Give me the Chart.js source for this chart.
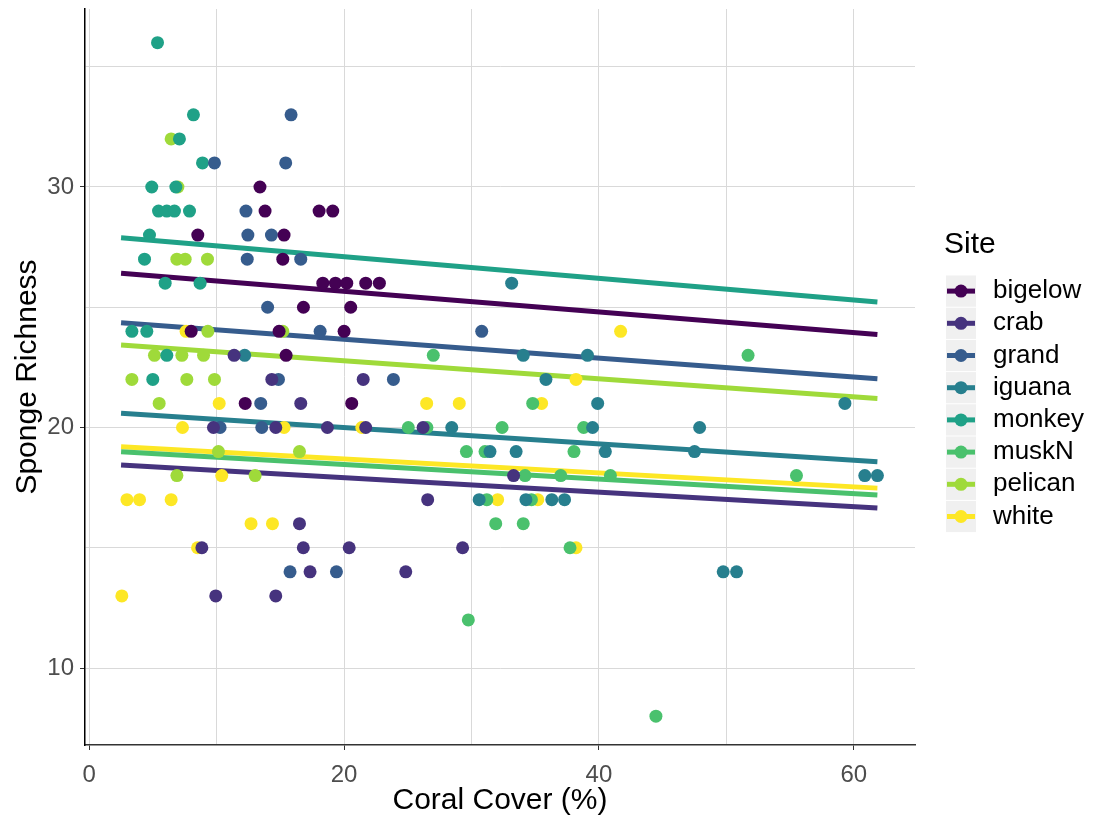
<!DOCTYPE html>
<html><head><meta charset="utf-8">
<script src="https://cdn.jsdelivr.net/npm/chart.js@4.4.0/dist/chart.umd.min.js"></script>
<style>html,body{margin:0;padding:0;background:#fff;}canvas{display:block;}</style>
</head><body>
<canvas id="c" width="1093" height="822"></canvas>
<script>
// ---- data ----
const sites = ['bigelow','crab','grand','iguana','monkey','muskN','pelican','white'];
const bigelow = [[13.4,30],[13.8,29],[18.04,29],[19.11,29],[8.52,28],[15.29,28],[15.19,27],[18.33,26],[19.32,26],[20.21,26],[21.7,26],[22.77,26],[16.81,25],[20.52,25],[20.0,24],[14.9,24],[8.0,24],[15.45,23],[12.24,21],[20.6,21]];
const crab = [[11.37,23],[14.33,22],[21.5,22],[9.75,20],[14.64,20],[16.6,21],[18.69,20],[21.7,20],[26.2,20],[26.56,17],[16.5,16],[16.8,15],[20.4,15],[29.3,15],[17.33,14],[24.84,14],[9.93,13],[14.64,13],[8.84,15],[33.3,18]];
const grand = [[15.84,33],[15.42,31],[9.83,31],[12.3,29],[12.45,28],[14.3,28],[12.4,27],[16.6,27],[14.0,25],[18.12,24],[14.85,22],[23.87,22],[13.46,21],[10.27,20],[13.54,20],[30.8,24],[15.76,14],[19.4,14]];
const iguana = [[12.2,23],[33.15,26],[34.06,23],[39.1,23],[35.84,22],[39.9,21],[59.3,21],[28.45,20],[39.5,20],[47.9,20],[31.45,19],[33.5,19],[40.5,19],[47.5,19],[60.86,18],[61.85,18],[30.6,17],[34.27,17],[36.3,17],[37.3,17],[49.75,14],[50.8,14]];
const monkey = [[5.36,36],[8.18,33],[7.08,32],[8.89,31],[4.91,30],[6.8,30],[5.44,29],[6.09,29],[6.69,29],[7.87,29],[4.73,28],[4.34,27],[5.96,26],[8.7,26],[3.35,24],[4.52,24],[6.09,23],[4.99,22]];
const muskN = [[27.0,23],[25.04,20],[26.5,20],[29.6,19],[34.8,21],[32.4,20],[38.8,20],[31.06,19],[38.04,19],[34.2,18],[37.0,18],[40.9,18],[31.2,17],[34.7,17],[31.9,16],[34.06,16],[37.73,15],[51.7,23],[55.5,18],[29.75,12],[44.47,8]];
const pelican = [[6.43,32],[6.96,30],[6.88,27],[7.53,27],[9.28,27],[15.19,24],[9.31,24],[5.12,23],[7.27,23],[8.97,23],[3.35,22],[7.66,22],[9.83,22],[5.49,21],[10.14,19],[6.88,18],[13.02,18],[16.5,19]];
const white = [[7.6,24],[10.2,21],[7.32,20],[15.29,20],[21.39,20],[10.4,18],[2.96,17],[3.95,17],[6.43,17],[12.7,16],[14.38,16],[8.5,15],[2.56,13],[26.48,21],[29.04,21],[41.7,24],[38.2,22],[35.5,21],[32.05,17],[35.2,17],[38.2,15]];
const fitX = [2.5, 61.85];
const fitStart = [26.41, 18.44, 24.36, 20.59, 27.89, 18.99, 23.43, 19.20];
const fitEnd   = [23.87, 16.65, 22.03, 18.58, 25.22, 17.19, 21.21, 17.48];
const xTickLabels = [0, 20, 40, 60];
const yTickLabels = [10, 20, 30];
const xTitle = 'Coral Cover (%)';
const yTitle = 'Sponge Richness';
const legendTitle = 'Site';

// ---- styles ----
const colors = ['#440154','#46337E','#365C8D','#277F8E','#1FA187','#4AC16D','#9FDA3A','#FDE725'];
const FONT = "'Liberation Sans', Arial, sans-serif";
const pointSets = [bigelow, crab, grand, iguana, monkey, muskN, pelican, white];

const datasets = [];
sites.forEach((s, i) => {
  datasets.push({
    type: 'scatter', label: s, order: 1,
    data: pointSets[i].map(p => ({x: p[0], y: p[1]})),
    backgroundColor: colors[i], borderWidth: 0, pointRadius: 6.5, pointHoverRadius: 6.5
  });
});
sites.forEach((s, i) => {
  datasets.push({
    type: 'line', label: s + ' fit', order: 2,
    data: [{x: fitX[0], y: fitStart[i]}, {x: fitX[1], y: fitEnd[i]}],
    borderColor: colors[i], borderWidth: 5, pointRadius: 0, fill: false,
    borderCapStyle: 'butt', tension: 0
  });
});

const legendPlugin = {
  id: 'siteLegend',
  afterDraw(chart) {
    const ctx = chart.ctx;
    ctx.save();
    ctx.fillStyle = '#000';
    ctx.font = '30px ' + FONT;
    ctx.textBaseline = 'middle';
    ctx.textAlign = 'left';
    ctx.fillText(legendTitle, 944, 245);
    const top0 = 275, step = 32.2, kx = 946, kw = 30;
    sites.forEach((s, i) => {
      const cy = top0 + step * i + step / 2;
      ctx.fillStyle = '#F0F0F0';
      ctx.fillRect(kx, cy - step / 2 + 0.5, kw, step - 1);
      ctx.strokeStyle = colors[i];
      ctx.lineWidth = 5;
      ctx.beginPath(); ctx.moveTo(kx + 1, cy); ctx.lineTo(kx + kw - 1, cy); ctx.stroke();
      ctx.fillStyle = colors[i];
      ctx.beginPath(); ctx.arc(kx + kw / 2, cy, 6.5, 0, Math.PI * 2); ctx.fill();
      ctx.fillStyle = '#000';
      ctx.font = '26px ' + FONT;
      ctx.fillText(s, 993, cy);
    });
    ctx.restore();
  }
};

new Chart(document.getElementById('c'), {
  data: { datasets },
  options: {
    responsive: false, animation: false,
    layout: { padding: { left: 0, top: 9, right: 178, bottom: 0 } },
    plugins: { legend: { display: false }, tooltip: { enabled: false } },
    events: [],
    scales: {
      x: {
        type: 'linear', min: -0.33, max: 64.8,
        afterFit: s => { s.height = 77; s.paddingLeft = 0; s.paddingRight = 0; },
        afterBuildTicks: s => { s.ticks = [0,10,20,30,40,50,60].map(v => ({value: v})); },
        grid: {
          color: '#D9D9D9', lineWidth: 1, drawTicks: true, tickLength: 5,
          tickColor: c => (xTickLabels.includes(c.tick && c.tick.value) ? '#333333' : 'rgba(0,0,0,0)')
        },
        border: { display: true, color: '#333333', width: 1.5 },
        ticks: {
          color: '#4D4D4D', font: { size: 24, family: FONT }, padding: 11, maxRotation: 0,
          callback: v => (xTickLabels.includes(v) ? String(v) : '')
        },
        title: { display: true, text: xTitle, color: '#000', font: { size: 30, family: FONT }, padding: { top: 0, bottom: 3 } }
      },
      y: {
        type: 'linear', min: 6.8, max: 37.4,
        afterFit: s => { s.width = 85; s.paddingTop = 0; s.paddingBottom = 0; },
        afterBuildTicks: s => { s.ticks = [10,15,20,25,30,35].map(v => ({value: v})); },
        grid: {
          color: '#D9D9D9', lineWidth: 1, drawTicks: true, tickLength: 5,
          tickColor: c => (yTickLabels.includes(c.tick && c.tick.value) ? '#333333' : 'rgba(0,0,0,0)')
        },
        border: { display: true, color: '#000000', width: 1.5 },
        ticks: {
          color: '#4D4D4D', font: { size: 24, family: FONT }, padding: 6,
          callback: v => (yTickLabels.includes(v) ? String(v) : '')
        },
        title: { display: true, text: yTitle, color: '#000', font: { size: 30, family: FONT }, padding: { top: 10, bottom: 0 } }
      }
    }
  },
  plugins: [legendPlugin]
});
</script>
</body></html>
